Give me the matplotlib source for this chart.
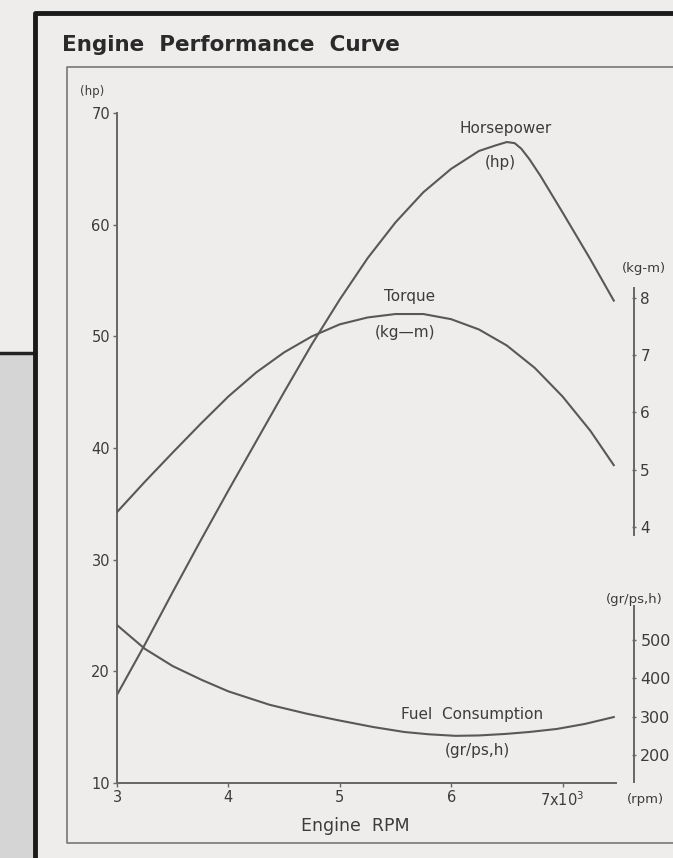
# engine performance curve -- recreated from scanned chart
import matplotlib
matplotlib.use('Agg')
from matplotlib import pyplot as plt
from matplotlib.lines import Line2D
from matplotlib.patches import Rectangle

# --- data (rpm in 10^3) ---
hp_rpm = [3.00, 3.25, 3.50, 3.75, 4.00, 4.25, 4.50, 4.75, 5.00, 5.25, 5.50, 5.75,
          6.00, 6.25, 6.40, 6.50, 6.57, 6.63, 6.70, 6.80, 7.00, 7.25, 7.46]
hp_val = [17.9, 22.4, 27.1, 31.7, 36.2, 40.6, 45.0, 49.3, 53.3, 57.0, 60.2, 62.9,
          65.0, 66.6, 67.1, 67.4, 67.3, 66.8, 65.9, 64.4, 61.1, 56.9, 53.2]

tq_rpm = [3.00, 3.25, 3.50, 3.75, 4.00, 4.25, 4.50, 4.75, 5.00, 5.25, 5.50, 5.75,
          6.00, 6.25, 6.50, 6.75, 7.00, 7.25, 7.46]
tq_val = [4.26, 4.79, 5.30, 5.80, 6.28, 6.70, 7.05, 7.33, 7.54, 7.66, 7.72, 7.72,
          7.63, 7.45, 7.17, 6.78, 6.28, 5.68, 5.08]

fc_rpm = [3.00, 3.25, 3.50, 3.76, 4.00, 4.37, 4.70, 4.98, 5.30, 5.58, 5.80, 6.04,
          6.25, 6.49, 6.70, 6.95, 7.20, 7.46]
fc_val = [539, 477, 432, 396, 366, 331, 308, 291, 273, 260, 254, 250,
          251, 255, 260, 268, 281, 299]

x_ticks = [3, 4, 5, 6, 7]
x_labels = ['3', '4', '5', '6', '7x10$^3$']
hp_ticks = [10, 20, 30, 40, 50, 60, 70]
tq_ticks = [4, 5, 6, 7, 8]
fc_ticks = [200, 300, 400, 500]

W, H = 673, 858
def fx(x): return x / W
def fy(y): return 1 - y / H

ink = '#585858'
bg = '#eeedec'
txt = '#3c3c3c'

fig = plt.figure(figsize=(W/100, H/100), dpi=100, facecolor=bg)

# page decorations (scan background, frames)
fig.add_artist(Rectangle((0, 0), fx(35), fy(353), transform=fig.transFigure,
                         color='#d6d5d5', zorder=0))
fig.add_artist(Line2D([0, fx(35)], [fy(353), fy(353)], transform=fig.transFigure,
                      color='#222222', lw=2.5))
fig.add_artist(Line2D([fx(35), fx(35), 1], [0, fy(13), fy(13)], transform=fig.transFigure,
                      color='#1a1a1a', lw=3.5))
fig.add_artist(Line2D([1, fx(67), fx(67), 1], [fy(67), fy(67), fy(843), fy(843)],
                      transform=fig.transFigure, color='#777777', lw=1.2))

fig.text(fx(62), fy(45), 'Engine  Performance  Curve', fontsize=15.5, fontweight='bold',
         color='#2a2a2a', va='center', ha='left')

# main axis: horsepower
ax = fig.add_axes([fx(117), fy(783), fx(616) - fx(117), fy(113) - fy(783)])
ax.patch.set_alpha(0)
ax.set_xlim(3, 7.48)
ax.set_ylim(10, 70)
for s in ['top', 'right']:
    ax.spines[s].set_visible(False)
for s in ['left', 'bottom']:
    ax.spines[s].set_color('#666666')
    ax.spines[s].set_linewidth(1.4)
ax.set_xticks(x_ticks)
ax.set_xticklabels(x_labels)
ax.set_yticks(hp_ticks)
ax.tick_params(axis='both', colors='#666666', labelcolor=txt, labelsize=10.5,
               length=3, width=1, pad=2)
ax.plot(hp_rpm, hp_val, color=ink, lw=1.5)

fig.text(fx(355), fy(826), 'Engine  RPM', fontsize=12.5, color=txt, ha='center', va='center')
fig.text(fx(80), fy(92), '(hp)', fontsize=8.5, color=txt, va='center')
fig.text(fx(627), fy(800), '(rpm)', fontsize=9.5, color=txt, va='center')

# torque axis on the right
pos = ax.get_position()
axt = fig.add_axes(pos)
axt.patch.set_alpha(0)
axt.set_xlim(3, 7.48)
axt.set_ylim(4 - (783 - 527) / 57.25, 4 + (527 - 113) / 57.25)
axt.xaxis.set_visible(False)
axt.yaxis.tick_right()
for s in ['top', 'left', 'bottom']:
    axt.spines[s].set_visible(False)
axt.spines['right'].set_position(('axes', (634 - 117) / (616 - 117)))
axt.spines['right'].set_bounds(3.86, 8.17)
axt.spines['right'].set_color('#666666')
axt.spines['right'].set_linewidth(1.4)
axt.set_yticks(tq_ticks)
axt.tick_params(axis='y', colors='#666666', labelcolor=txt, labelsize=11,
                length=3, width=1, pad=3, direction='inout')
axt.plot(tq_rpm, tq_val, color=ink, lw=1.5)
fig.text(fx(622), fy(268), '(kg-m)', fontsize=9.5, color=txt, va='center')

# fuel consumption axis on the right
axf = fig.add_axes(pos)
axf.patch.set_alpha(0)
axf.set_xlim(3, 7.48)
axf.set_ylim(200 - (783 - 755) / 0.3833, 200 + (755 - 113) / 0.3833)
axf.xaxis.set_visible(False)
axf.yaxis.tick_right()
for s in ['top', 'left', 'bottom']:
    axf.spines[s].set_visible(False)
axf.spines['right'].set_position(('axes', (634 - 117) / (616 - 117)))
axf.spines['right'].set_bounds(130, 590)
axf.spines['right'].set_color('#666666')
axf.spines['right'].set_linewidth(1.4)
axf.set_yticks(fc_ticks)
axf.tick_params(axis='y', colors='#666666', labelcolor=txt, labelsize=11.5,
                length=3, width=1, pad=3, direction='inout')
axf.plot(fc_rpm, fc_val, color=ink, lw=1.5)
fig.text(fx(606), fy(600), '(gr/ps,h)', fontsize=9.5, color=txt, va='center')

# curve captions
cap = dict(fontsize=11, color=txt, ha='center', va='center')
fig.text(fx(506), fy(128), 'Horsepower', **cap)
fig.text(fx(500), fy(162), '(hp)', **cap)
fig.text(fx(410), fy(297), 'Torque', **cap)
fig.text(fx(405), fy(332), '(kg\u2014m)', **cap)
fig.text(fx(472), fy(715), 'Fuel  Consumption', **cap)
fig.text(fx(477), fy(750), '(gr/ps,h)', **cap)

fig.savefig('out.png', dpi=100, facecolor=bg)
